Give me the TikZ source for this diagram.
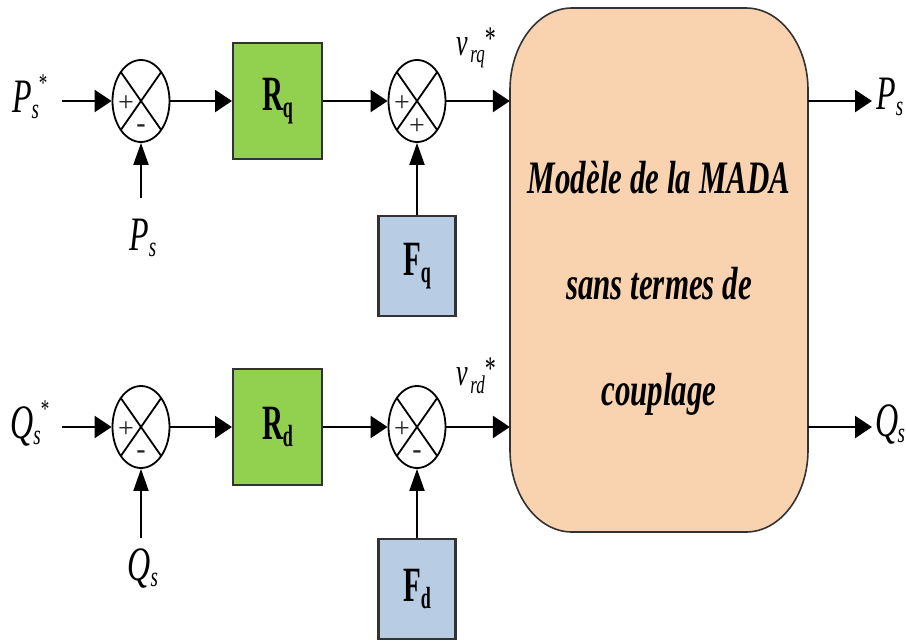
\documentclass[tikz,border=0pt]{standalone}
\usepackage{fontspec}
\setmainfont{Liberation Serif}
\usetikzlibrary{shapes.geometric,arrows.meta,calc}

\definecolor{boxgreen}{RGB}{146,208,80}
\definecolor{boxblue}{RGB}{184,204,228}
\definecolor{madafill}{RGB}{249,211,176}
\definecolor{framegray}{RGB}{50,50,50}

% vertically stretched text
\newcommand{\tall}[2][1.5]{\scalebox{1}[#1]{#2}}
% italic signal name with subscript and optional star
\newcommand{\siglab}[3]{\tall{\itshape #1\kern-0.5pt\raisebox{-4pt}{\fontsize{19}{19}\selectfont #2}\raisebox{14pt}{\fontsize{17}{17}\selectfont\upshape #3}}}
% bold block name with subscript
\newcommand{\blocklab}[2]{\tall[1.7]{\bfseries #1\raisebox{-4pt}{\fontsize{18}{18}\selectfont #2}}}
% voltage reference label
\newcommand{\vlab}[1]{\tall{\itshape v\raisebox{-5pt}{\fontsize{17}{17}\selectfont\,#1}\raisebox{4pt}{\fontsize{22}{22}\selectfont\upshape *}}}

\begin{document}
\begin{tikzpicture}[x=1pt,y=-1pt,
  summer/.style={ellipse,draw,line width=1.8pt,minimum width=57pt,minimum height=82pt,inner sep=0pt},
  ctrl/.style={draw=framegray,line width=2pt,fill=boxgreen,minimum width=89pt,minimum height=116pt,inner sep=0pt,font=\fontsize{29}{29}\selectfont},
  ffwd/.style={draw=framegray,line width=2.2pt,fill=boxblue,minimum width=77pt,minimum height=100pt,inner sep=0pt,font=\fontsize{29}{29}\selectfont},
  harrow/.style={line width=2.6pt,-{Triangle[length=17pt,width=22pt]}},
  varrow/.style={line width=2pt,-{Triangle[length=22pt,width=15pt]}},
  sign/.style={inner sep=0pt,text=black!85,font=\fontsize{28}{28}\selectfont},
  siglabel/.style={inner sep=0pt,font=\fontsize{32}{32}\selectfont},
  vlabel/.style={inner sep=0pt,font=\fontsize{26}{26}\selectfont},
  madatext/.style={inner sep=0pt,anchor=base,font=\fontsize{31}{31}\selectfont\bfseries\itshape},
]
\useasboundingbox (0,0) rectangle (906,641);

% ---- model block with elliptical corners ----
\draw[fill=madafill,draw=framegray,line width=1.6pt]
  (510,90) arc[start angle=180,end angle=270,x radius=62,y radius=82]
  -- (746,8) arc[start angle=270,end angle=360,x radius=62,y radius=82]
  -- (808,450) arc[start angle=0,end angle=90,x radius=62,y radius=82]
  -- (572,532) arc[start angle=90,end angle=180,x radius=62,y radius=82]
  -- cycle;
\node[minimum width=298pt,minimum height=524pt,inner sep=0pt] (mada) at (659,270) {};
\node[madatext] (m1) at (659,193) {\tall{Modèle de la MADA}};
\node[madatext] (m2) at (659,299) {\tall{sans termes de}};
\node[madatext] (m3) at (659,405) {\tall{couplage}};

% ---- summing junctions ----
\node[summer] (s1q) at (141,101) {};
\node[summer] (s2q) at (417,101) {};
\node[summer] (s1d) at (141,427) {};
\node[summer] (s2d) at (417,427) {};
\foreach \s in {s1q,s2q,s1d,s2d}{
  \draw[line width=1.8pt] ($(\s.center)+(-20.2,-29)$) -- ($(\s.center)+(20.2,29)$)
                          ($(\s.center)+(20.2,-29)$) -- ($(\s.center)+(-20.2,29)$);
  \node[sign] (\s-l) at ($(\s.center)+(-15,3)$) {+};
}
\node[sign] (s1q-b) at ($(s1q.center)+(0,28)$) {\textbf{-}};
\node[sign] (s2q-b) at ($(s2q.center)+(0,26)$) {+};
\node[sign] (s1d-b) at ($(s1d.center)+(0,28)$) {\textbf{-}};
\node[sign] (s2d-b) at ($(s2d.center)+(0,28)$) {\textbf{-}};

% ---- controllers and compensation blocks ----
\node[ctrl] (rq) at (277.5,101) {\blocklab{R}{q}};
\node[ctrl] (rd) at (277.5,427) {\blocklab{R}{d}};
\node[ffwd] (fq) at (417,266) {\blocklab{F}{q}};
\node[ffwd] (fd) at (417,589) {\blocklab{F}{d}};

% ---- signal labels ----
\node[siglabel] (psref) at (30,97) {\siglab{P}{s}{*}};
\node[siglabel] (qsref) at (30,424) {\siglab{Q}{s}{*}};
\node[siglabel] (psfb) at (143,238) {\siglab{P}{s}{}};
\node[siglabel] (qsfb) at (143,568) {\siglab{Q}{s}{}};
\node[siglabel] (psout) at (890,97) {\siglab{P}{s}{}};
\node[siglabel] (qsout) at (890,424) {\siglab{Q}{s}{}};
\node[vlabel] (vrq) at (476,48) {\vlab{rq}};
\node[vlabel] (vrd) at (476,376) {\vlab{rd}};

% ---- free ends of connectors ----
\coordinate (psin) at (62,101);
\coordinate (qsin) at (62,427);
\coordinate (psfbin) at (141,198);
\coordinate (qsfbin) at (141,538);
\coordinate (psend) at (872,101);
\coordinate (qsend) at (872,427);

% ---- connectors ----
\draw[harrow] (psin) -- (s1q.west);
\draw[harrow] (s1q.east) -- (rq.west);
\draw[harrow] (rq.east) -- (s2q.west);
\draw[harrow] (s2q.east) -- (s2q.east -| mada.west);
\draw[harrow] (mada.east |- s2q) -- (psend);
\draw[varrow] (psfbin) -- (s1q.south);
\draw[varrow] (fq.north) -- (s2q.south);

\draw[harrow] (qsin) -- (s1d.west);
\draw[harrow] (s1d.east) -- (rd.west);
\draw[harrow] (rd.east) -- (s2d.west);
\draw[harrow] (s2d.east) -- (s2d.east -| mada.west);
\draw[harrow] (mada.east |- s2d) -- (qsend);
\draw[varrow] (qsfbin) -- (s1d.south);
\draw[varrow] (fd.north) -- (s2d.south);
\end{tikzpicture}
\end{document}
